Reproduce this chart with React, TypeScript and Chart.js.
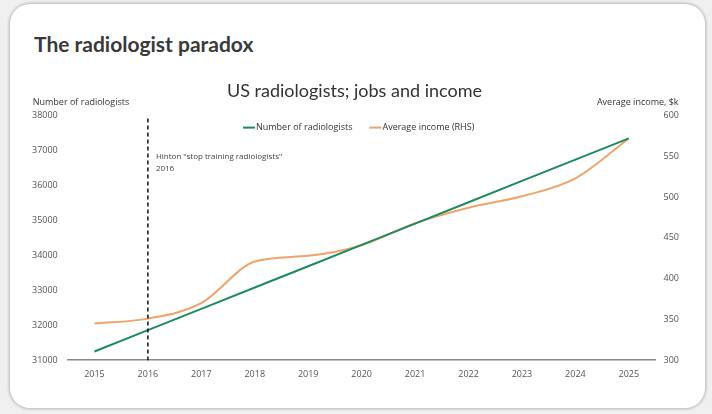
import React, { useEffect, useRef } from "react";
import { Chart, registerables } from "chart.js";

Chart.register(...registerables);

const years = ["2015", "2016", "2017", "2018", "2019", "2020", "2021", "2022", "2023", "2024", "2025"];
const radiologists = [31250, 31860, 32470, 33080, 33690, 34300, 34910, 35520, 36130, 36740, 37350];
const income = [345, 351, 370, 421, 428, 441, 468, 487, 501, 523, 572];
const hintonYear = "2016";
const hintonLines = ['Hinton "stop training radiologists"', "2016"];

const GREEN = "#1d8a5f";
const ORANGE = "#eea46a";
const TEXT = "#444";
const FONT = "'Open Sans', 'Noto Sans', sans-serif";

const annotations = {
  id: "annotations",
  afterDatasetsDraw(chart: any) {
    const { ctx, chartArea, scales } = chart;
    const x = scales.x.getPixelForValue(years.indexOf(hintonYear));
    ctx.save();
    // Hinton marker
    ctx.strokeStyle = "#111";
    ctx.lineWidth = 1.5;
    ctx.setLineDash([4, 3]);
    ctx.beginPath();
    ctx.moveTo(x, chartArea.top + 3);
    ctx.lineTo(x, chartArea.bottom);
    ctx.stroke();
    ctx.setLineDash([]);
    ctx.fillStyle = TEXT;
    ctx.font = `8px ${FONT}`;
    ctx.textAlign = "left";
    ctx.textBaseline = "middle";
    ctx.fillText(hintonLines[0], x + 8, chartArea.top + 41);
    ctx.fillText(hintonLines[1], x + 8, chartArea.top + 53);
    // axis titles
    ctx.font = `9px ${FONT}`;
    ctx.fillStyle = "#333";
    ctx.textAlign = "left";
    ctx.fillText("Number of radiologists", chartArea.left - 35, chartArea.top - 13);
    ctx.textAlign = "right";
    ctx.fillText("Average income, $k", chartArea.right + 23, chartArea.top - 13);
    // legend inside chart area
    const ds = chart.data.datasets;
    const lineW = 12;
    const gapText = 1;
    const gapItem = 17;
    const widths = ds.map((d: any) => lineW + gapText + ctx.measureText(d.label).width);
    const total = widths.reduce((a: number, b: number) => a + b, 0) + gapItem * (ds.length - 1);
    let lx = (chartArea.left + chartArea.right) / 2 - 3 - total / 2;
    const ly = chartArea.top + 12;
    ds.forEach((d: any, i: number) => {
      ctx.strokeStyle = d.borderColor;
      ctx.lineWidth = 2;
      ctx.beginPath();
      ctx.moveTo(lx, ly);
      ctx.lineTo(lx + lineW, ly);
      ctx.stroke();
      ctx.fillStyle = "#333";
      ctx.textAlign = "left";
      ctx.fillText(d.label, lx + lineW + gapText, ly);
      lx += widths[i] + gapItem;
    });
    ctx.restore();
  },
};

const plain = (v: any) => String(v);

export default function App() {
  const ref = useRef<HTMLCanvasElement>(null);
  useEffect(() => {
    const chart = new Chart(ref.current as HTMLCanvasElement, {
      type: "line",
      data: {
        labels: years,
        datasets: [
          {
            label: "Number of radiologists",
            data: radiologists,
            borderColor: GREEN,
            backgroundColor: GREEN,
            borderWidth: 2,
            pointRadius: 0,
            yAxisID: "y",
            tension: 0,
          },
          {
            label: "Average income (RHS)",
            data: income,
            borderColor: ORANGE,
            backgroundColor: ORANGE,
            borderWidth: 2,
            pointRadius: 0,
            yAxisID: "y1",
            cubicInterpolationMode: "monotone",
          },
        ],
      },
      options: {
        animation: false,
        responsive: true,
        maintainAspectRatio: false,
        layout: { padding: { top: 80, left: 22, right: 25, bottom: 25 } },
        plugins: {
          title: {
            display: true,
            text: "US radiologists; jobs and income",
            color: "#333",
            font: { family: "Lato, sans-serif", size: 18, weight: "normal" },
            padding: { top: 0, bottom: 14 },
          },
          legend: { display: false },
          tooltip: { enabled: false },
        },
        scales: {
          x: {
            type: "category",
            offset: true,
            grid: { display: false, drawTicks: false },
            border: { display: true, color: "#888", width: 1.5 },
            ticks: { color: "#555", font: { family: FONT, size: 9 }, padding: 9, maxRotation: 0 },
          },
          y: {
            position: "left",
            min: 31000,
            max: 38000,
            grid: { display: false, drawTicks: false },
            border: { display: false },
            ticks: { stepSize: 1000, color: "#555", font: { family: FONT, size: 9 }, padding: 10, callback: plain },
          },
          y1: {
            position: "right",
            min: 300,
            max: 600,
            grid: { display: false, drawTicks: false },
            border: { display: false },
            ticks: { stepSize: 50, color: "#555", font: { family: FONT, size: 9 }, padding: 8, callback: plain },
          },
        },
      },
      plugins: [annotations],
    });
    return () => chart.destroy();
  }, []);

  return (
    <div style={{ position: "fixed", left: 0, top: 0, width: 712, height: 414, background: "#f0f0f0", overflow: "hidden" }}>
      <div
        style={{
          position: "absolute",
          left: 10,
          top: 4,
          width: 695,
          height: 404,
          background: "#fff",
          borderRadius: 20,
          boxShadow: "0 0 3px 1px rgba(0,0,0,0.25)",
        }}
      />
      <div
        style={{
          position: "absolute",
          left: 34,
          top: 31,
          fontFamily: "Lato, sans-serif",
          fontWeight: 700,
          fontSize: 21,
          lineHeight: "26px",
          color: "#3a3a3a",
        }}
      >
        The radiologist paradox
      </div>
      <div style={{ position: "absolute", left: 0, top: 0, width: 712, height: 377, overflow: "hidden" }}>
        <div style={{ position: "relative", width: 712, height: 414 }}>
          <canvas ref={ref} />
        </div>
      </div>
    </div>
  );
}
